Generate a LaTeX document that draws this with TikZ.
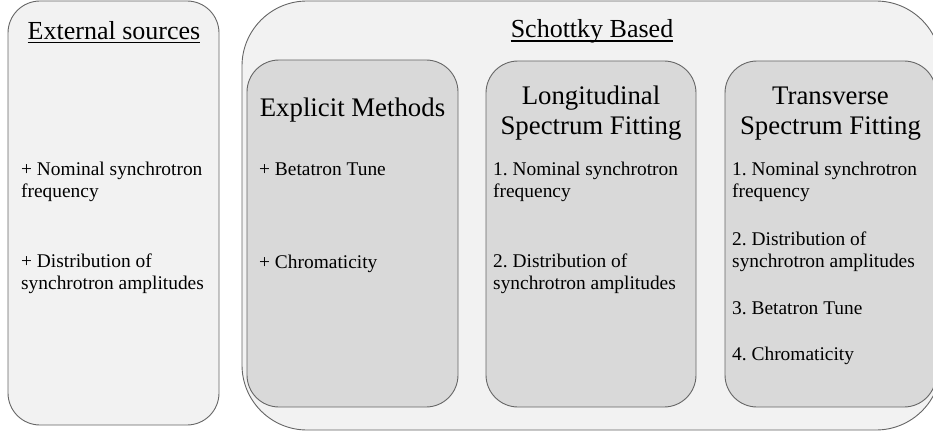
\documentclass[tikz,border=0pt]{standalone}
\usepackage{fontspec}
\setmainfont{Liberation Serif}
\frenchspacing
\definecolor{edge}{RGB}{102,102,102}
\definecolor{outerfill}{RGB}{242,242,242}
\definecolor{innerfill}{RGB}{217,217,217}
\tikzset{
  panel/.style={draw=edge, line width=0.9pt, fill=outerfill, inner sep=0pt},
  outerpanel/.style={panel, rounded corners=32pt},
  bigpanel/.style={panel, rounded corners=65pt},
  method/.style={panel, fill=innerfill, rounded corners=32pt},
  title/.style={inner sep=0pt, anchor=base, font=\fontsize{26}{30}\selectfont},
  head/.style={inner sep=0pt, anchor=base, font=\fontsize{26.8}{31}\selectfont},
  item/.style={inner sep=0pt, anchor=base west, font=\fontsize{19.4}{22.5}\selectfont\frenchspacing},
  uline/.style={line width=1.5pt, black}
}
\begin{document}
\begin{tikzpicture}[x=1pt, y=-1pt]
\useasboundingbox (0,0) rectangle (933,433);
\fill[white] (0,0) rectangle (933,433);
\clip (0,0) rectangle (933,433);

% left panel: external sources
\node[outerpanel, minimum width=211pt, minimum height=424pt] (ext) at (113.5,213) {};
\node[title] (extT) at (114,39.5) {External sources};
\draw[uline] ([yshift=-3pt]extT.base west) -- ([yshift=-3pt]extT.base east);
\node[item] (e1a) at (21,175) {+ Nominal synchrotron};
\node[item] (e1b) at (21,197.5) {frequency};
\node[item] (e2a) at (21,267) {+ Distribution of};
\node[item] (e2b) at (21,289.5) {synchrotron amplitudes};

% right panel: Schottky based methods
\node[bigpanel, minimum width=699pt, minimum height=429pt] (sch) at (591.5,215.5) {};
\node[title] (schT) at (592,38) {Schottky Based};
\draw[uline] ([yshift=-3pt]schT.base west) -- ([yshift=-3pt]schT.base east);

% explicit methods
\node[method, minimum width=211pt, minimum height=347pt] (expl) at (352.5,233.5) {};
\node[head] (explT) at (352.5,117) {Explicit Methods};
\node[item] (x1) at (259,175) {+ Betatron Tune};
\node[item] (x2) at (259,268) {+ Chromaticity};

% longitudinal spectrum fitting
\node[method, minimum width=210pt, minimum height=346pt] (lon) at (591,234) {};
\node[head] (lonT1) at (591,104) {Longitudinal};
\node[head] (lonT2) at (591,135) {Spectrum Fitting};
\node[item] (l1a) at (493,175) {1. Nominal synchrotron};
\node[item] (l1b) at (493,197.5) {frequency};
\node[item] (l2a) at (493,267) {2. Distribution of};
\node[item] (l2b) at (493,289.5) {synchrotron amplitudes};

% transverse spectrum fitting
\node[method, minimum width=211pt, minimum height=346pt] (tra) at (830.5,234) {};
\node[head] (traT1) at (830.5,104) {Transverse};
\node[head] (traT2) at (830.5,135) {Spectrum Fitting};
\node[item] (t1a) at (732,175) {1. Nominal synchrotron};
\node[item] (t1b) at (732,197.5) {frequency};
\node[item] (t2a) at (732,245) {2. Distribution of};
\node[item] (t2b) at (732,267.5) {synchrotron amplitudes};
\node[item] (t3) at (732,314) {3. Betatron Tune};
\node[item] (t4) at (732,360) {4. Chromaticity};
\end{tikzpicture}
\end{document}
